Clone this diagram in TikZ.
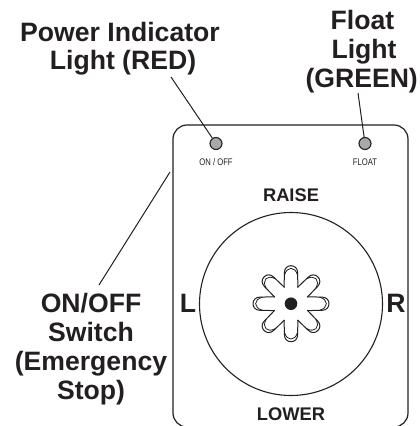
\documentclass[tikz,border=0pt]{standalone}
\usepackage{fontspec}
\setmainfont{Liberation Sans}
\definecolor{ink}{HTML}{231F20}
\definecolor{ledgray}{HTML}{A7A9AC}
\tikzset{
  big/.style={anchor=base,inner sep=0pt,text=ink,font=\fontsize{26.6}{29}\selectfont\bfseries},
  mid/.style={anchor=base,inner sep=0pt,text=ink,font=\fontsize{18.3}{20}\selectfont\bfseries},
  tiny/.style={anchor=base,inner sep=0pt,text=ink,xscale=.8,font=\fontsize{9.6}{10}\selectfont},
  led/.style={circle,draw=ink,line width=1.1pt,fill=ledgray,minimum size=12pt,inner sep=0pt},
  outline/.style={draw=ink,line width=1.2pt},
  leader/.style={draw=ink,line width=1pt},
  starline/.style={draw=ink,line width=1pt,line join=round}
}
\begin{document}
\begin{tikzpicture}[x=1pt,y=-1pt]
\useasboundingbox (0,0) rectangle (420,426);
\draw[outline,rounded corners=14pt] (173,125) rectangle (408,427);
\node[outline,circle,minimum size=183pt,inner sep=0pt,line width=1.1pt] (dial) at (291,304) {};
\node[led] (ledr) at (216,143.5) {};
\node[led] (ledg) at (365,143.5) {};
\node[tiny] (onoff) at (216,165) {ON / OFF};
\node[tiny] (float) at (365,165) {FLOAT};
\node[mid] (raise) at (291,201.7) {RAISE};
\node[mid] (lower) at (291,420) {LOWER};
\node[big] (l) at (188,312) {L};
\node[big] (r) at (396,312) {R};
\node[big] (p1) at (120,41) {Power Indicator};
\node[big] (p2) at (123,69.5) {Light (RED)};
\node[big] (f1) at (362.5,29) {Float};
\node[big] (f2) at (364,58) {Light};
\node[big] (f3) at (361.7,87.5) {(GREEN)};
\node[big] (s1) at (91,312) {ON/OFF};
\node[big] (s2) at (91,341) {Switch};
\node[big] (s3) at (91,370.5) {(Emergency};
\node[big] (s4) at (91,399.5) {Stop)};
\coordinate (pstart) at (171,77);
\coordinate (fstart) at (358,93);
\coordinate (sstart) at (99,285);
\coordinate (send) at (170,172);
\draw[leader] (pstart) -- (ledr);
\draw[leader] (fstart) -- (ledg);
\draw[leader] (sstart) -- (send);
\fill[ink] (291,303.7) circle (6.3);
\foreach \a in {0,45,...,315}{
  \begin{scope}[shift={(291,303.7)},rotate=\a]
    \draw[starline] (16.2,-6.9) -- (31,-6.6)
      .. controls (35.5,-6.6) and (38,-3.6) .. (38,0)
      .. controls (38,3.6) and (35.5,6.6) .. (31,6.6) -- (16.2,6.9);
    \draw[starline,line width=.8pt] (28.5,-6.6)
      .. controls (33,-5.2) and (35.4,-3) .. (35.4,0)
      .. controls (35.4,3) and (33,5.2) .. (28.5,6.6);
  \end{scope}
}
\end{tikzpicture}
\end{document}
